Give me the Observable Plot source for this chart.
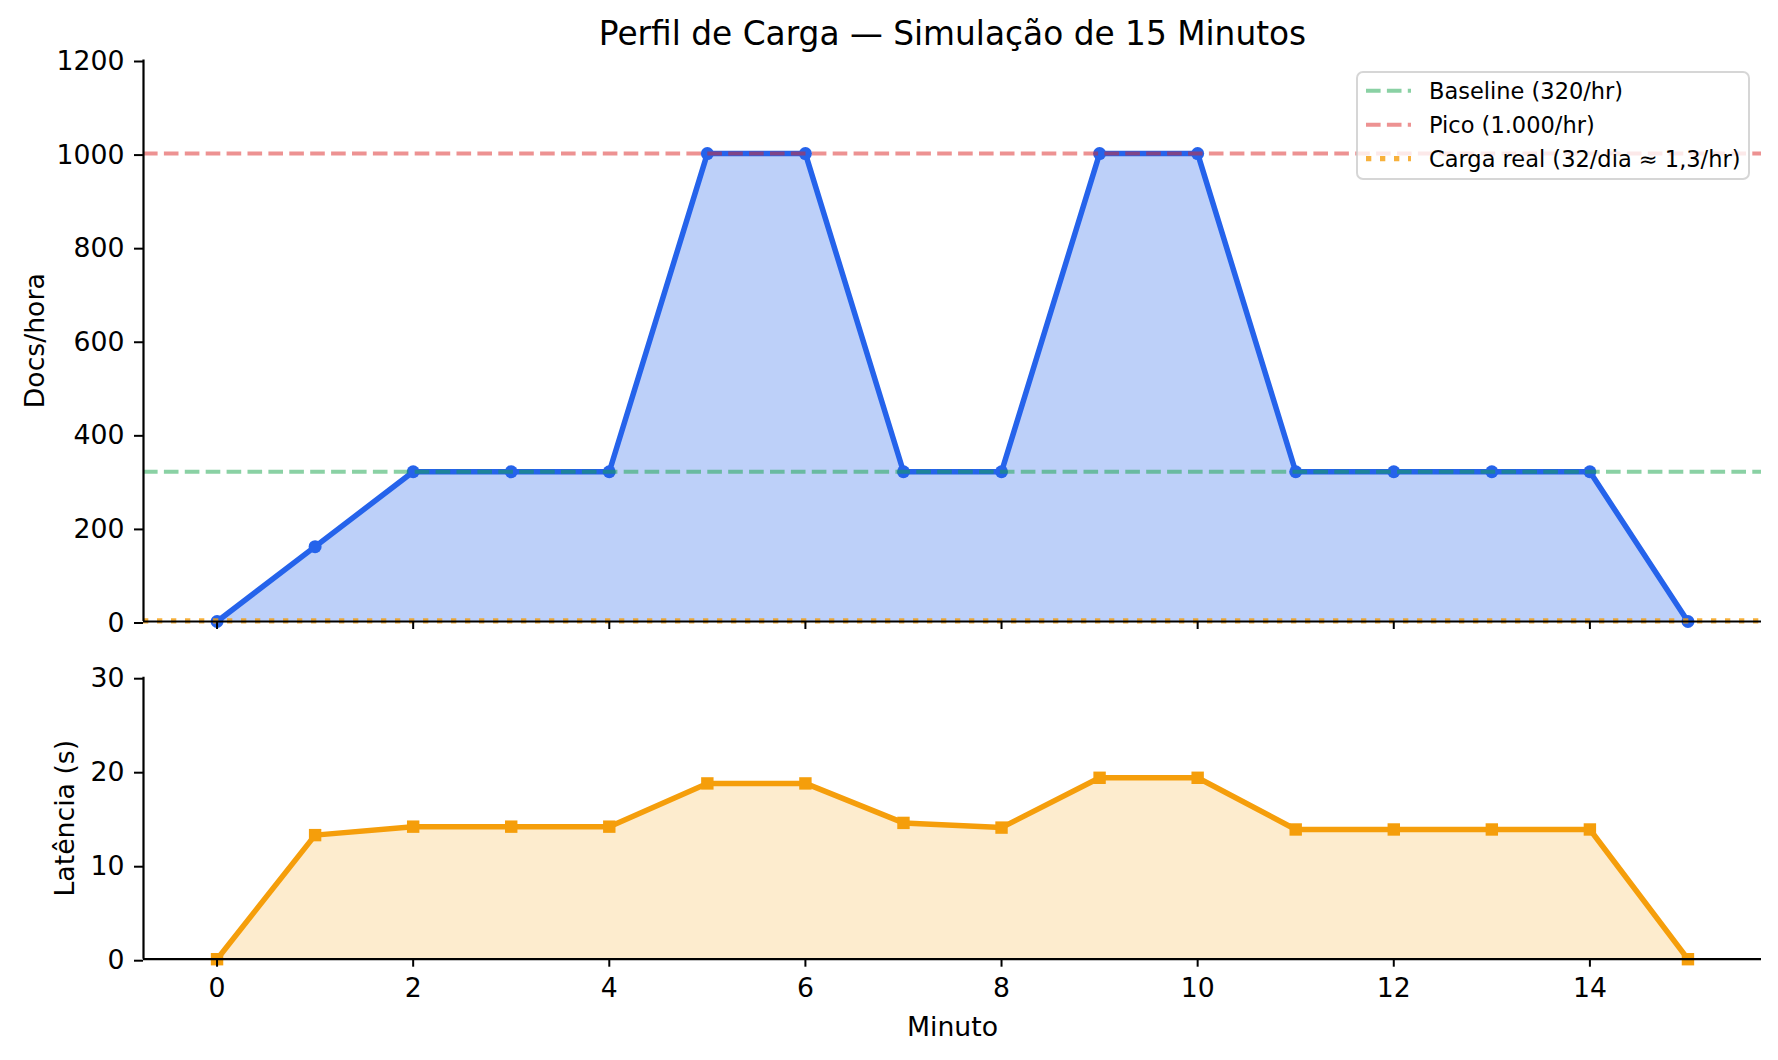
<!DOCTYPE html>
<html><head><meta charset="utf-8">
<script src="https://cdn.jsdelivr.net/npm/d3@7"></script>
<script src="https://cdn.jsdelivr.net/npm/@observablehq/plot@0.6"></script>
<style>
body{margin:0;background:#fff;}
#wrap{position:relative;width:1778px;height:1060px;font-family:"DejaVu Sans";background:#fff;overflow:hidden;}
#wrap > svg{position:absolute;left:0;}
</style></head><body><div id="wrap"></div>
<script>
// ---- data ----
const minutes = [0,1,2,3,4,5,6,7,8,9,10,11,12,13,14,15];
const docsHora = [0,160,320,320,320,1000,1000,320,320,1000,1000,320,320,320,320,0];
const latencia = [0,13.2,14.1,14.1,14.1,18.7,18.7,14.5,14.0,19.3,19.3,13.8,13.8,13.8,13.8,0];
const xTicks = [0,2,4,6,8,10,12,14];
const yTicksTop = [0,200,400,600,800,1000,1200];
const yTicksBottom = [0,10,20,30];
const refLabels = ["Baseline (320/hr)","Pico (1.000/hr)","Carga real (32/dia \u2248 1,3/hr)"];
const refValues = [320,1000,1.3];
const title = "Perfil de Carga \u2014 Simula\u00e7\u00e3o de 15 Minutos";
const yLabelTop = "Docs/hora";
const yLabelBottom = "Lat\u00eancia (s)";
const xLabel = "Minuto";

// ---- styles ----
const refStyles = [
  {stroke:"#16a34a",strokeOpacity:0.5,strokeWidth:4,strokeDasharray:"14.6,6.3"},
  {stroke:"#dc2626",strokeOpacity:0.5,strokeWidth:4,strokeDasharray:"14.6,6.3"},
  {stroke:"#f59e0b",strokeOpacity:0.8,strokeWidth:5.3,strokeDasharray:"5.3,8.7"}
];
const W = 1778;
const xDomain = [-0.75, 15.75];
const FS = 26.7;
const baseStyle = {fontFamily:"DejaVu Sans",color:"black",background:"transparent",overflow:"visible"};

const load = minutes.map((m,i)=>({m, v: docsHora[i]}));
const lat = minutes.map((m,i)=>({m, v: latencia[i]}));
const refs = refValues.map((v,i)=>({v, label: refLabels[i]}));

const topPlot = Plot.plot({
  width: W, height: 640,
  marginLeft:143, marginRight:17, marginTop:59.5, marginBottom:19,
  x:{domain:xDomain}, y:{domain:[0,1200]},
  style: baseStyle,
  marks:[
    Plot.areaY(load,{x:"m",y:"v",fill:"#2563eb",fillOpacity:0.3}),
    Plot.line(load,{x:"m",y:"v",stroke:"#2563eb",strokeWidth:5.5}),
    Plot.dot(load,{x:"m",y:"v",r:6.5,fill:"#2563eb"}),
    ...refs.map((d,i)=>Plot.ruleY([d],{y:"v",...refStyles[i]})),
    Plot.axisY({ticks:yTicksTop,tickSize:9,tickPadding:10,fontSize:FS,label:null,dy:1.5,strokeWidth:2,tickFormat:d=>String(d)}),
    Plot.axisX({ticks:xTicks,tickSize:8,strokeWidth:2,label:null,tickFormat:()=>""}),
    Plot.ruleX([xDomain[0]],{stroke:"black",strokeWidth:2.2}),
    Plot.ruleY([0],{stroke:"black",strokeWidth:2.2}),
    Plot.text([title],{text:d=>d,frameAnchor:"top",dy:-15,lineAnchor:"bottom",fontSize:32.8}),
    Plot.text([yLabelTop],{text:d=>d,frameAnchor:"left",dx:-100,rotate:-90,lineAnchor:"bottom",textAnchor:"middle",fontSize:FS})
  ]
});
topPlot.style.top = "0px";

const bottomPlot = Plot.plot({
  width: W, height: 420,
  marginLeft:143, marginRight:17, marginTop:36.7, marginBottom:101.3,
  x:{domain:xDomain}, y:{domain:[0,30]},
  style: baseStyle,
  marks:[
    Plot.areaY(lat,{x:"m",y:"v",fill:"#f59e0b",fillOpacity:0.2}),
    Plot.line(lat,{x:"m",y:"v",stroke:"#f59e0b",strokeWidth:5.5}),
    Plot.dot(lat,{x:"m",y:"v",r:7,symbol:"square",fill:"#f59e0b"}),
    Plot.axisY({ticks:yTicksBottom,tickSize:9,tickPadding:10,fontSize:FS,label:null,dy:1.5,strokeWidth:2,tickFormat:d=>String(d)}),
    Plot.axisX({ticks:xTicks,tickSize:8,tickPadding:11,strokeWidth:2,fontSize:FS,label:null,tickFormat:d=>String(d)}),
    Plot.ruleX([xDomain[0]],{stroke:"black",strokeWidth:2.2}),
    Plot.ruleY([0],{stroke:"black",strokeWidth:2.2}),
    Plot.text([xLabel],{text:d=>d,frameAnchor:"bottom",dy:77,lineAnchor:"bottom",fontSize:FS}),
    Plot.text([yLabelBottom],{text:d=>d,frameAnchor:"left",dx:-70,rotate:-90,lineAnchor:"bottom",textAnchor:"middle",fontSize:FS})
  ]
});
bottomPlot.style.top = "640px";

const wrap = document.getElementById("wrap");
wrap.appendChild(topPlot);
wrap.appendChild(bottomPlot);

// ---- legend ----
const ns = "http://www.w3.org/2000/svg";
const lg = document.createElementNS(ns,"svg");
lg.setAttribute("width","394"); lg.setAttribute("height","109");
lg.style.position="absolute"; lg.style.left="1356px"; lg.style.top="71px"; lg.style.overflow="visible";
const box = document.createElementNS(ns,"rect");
Object.entries({x:1,y:1,width:392,height:107,rx:6,ry:6,fill:"white","fill-opacity":0.8,stroke:"#cccccc","stroke-opacity":0.8,"stroke-width":2}).forEach(([k,v])=>box.setAttribute(k,v));
lg.appendChild(box);
refs.forEach((d,i)=>{
  const yc = 19.7 + i*34;
  const ln = document.createElementNS(ns,"line");
  const s = refStyles[i];
  Object.entries({x1:10,x2:55,y1:yc,y2:yc,stroke:s.stroke,"stroke-opacity":s.strokeOpacity,"stroke-width":s.strokeWidth,"stroke-dasharray":s.strokeDasharray}).forEach(([k,v])=>ln.setAttribute(k,v));
  lg.appendChild(ln);
  const t = document.createElementNS(ns,"text");
  t.setAttribute("x",73); t.setAttribute("y",28 + i*34);
  t.setAttribute("font-family","DejaVu Sans"); t.setAttribute("font-size","22.5");
  t.textContent = d.label;
  lg.appendChild(t);
});
wrap.appendChild(lg);
</script></body></html>
